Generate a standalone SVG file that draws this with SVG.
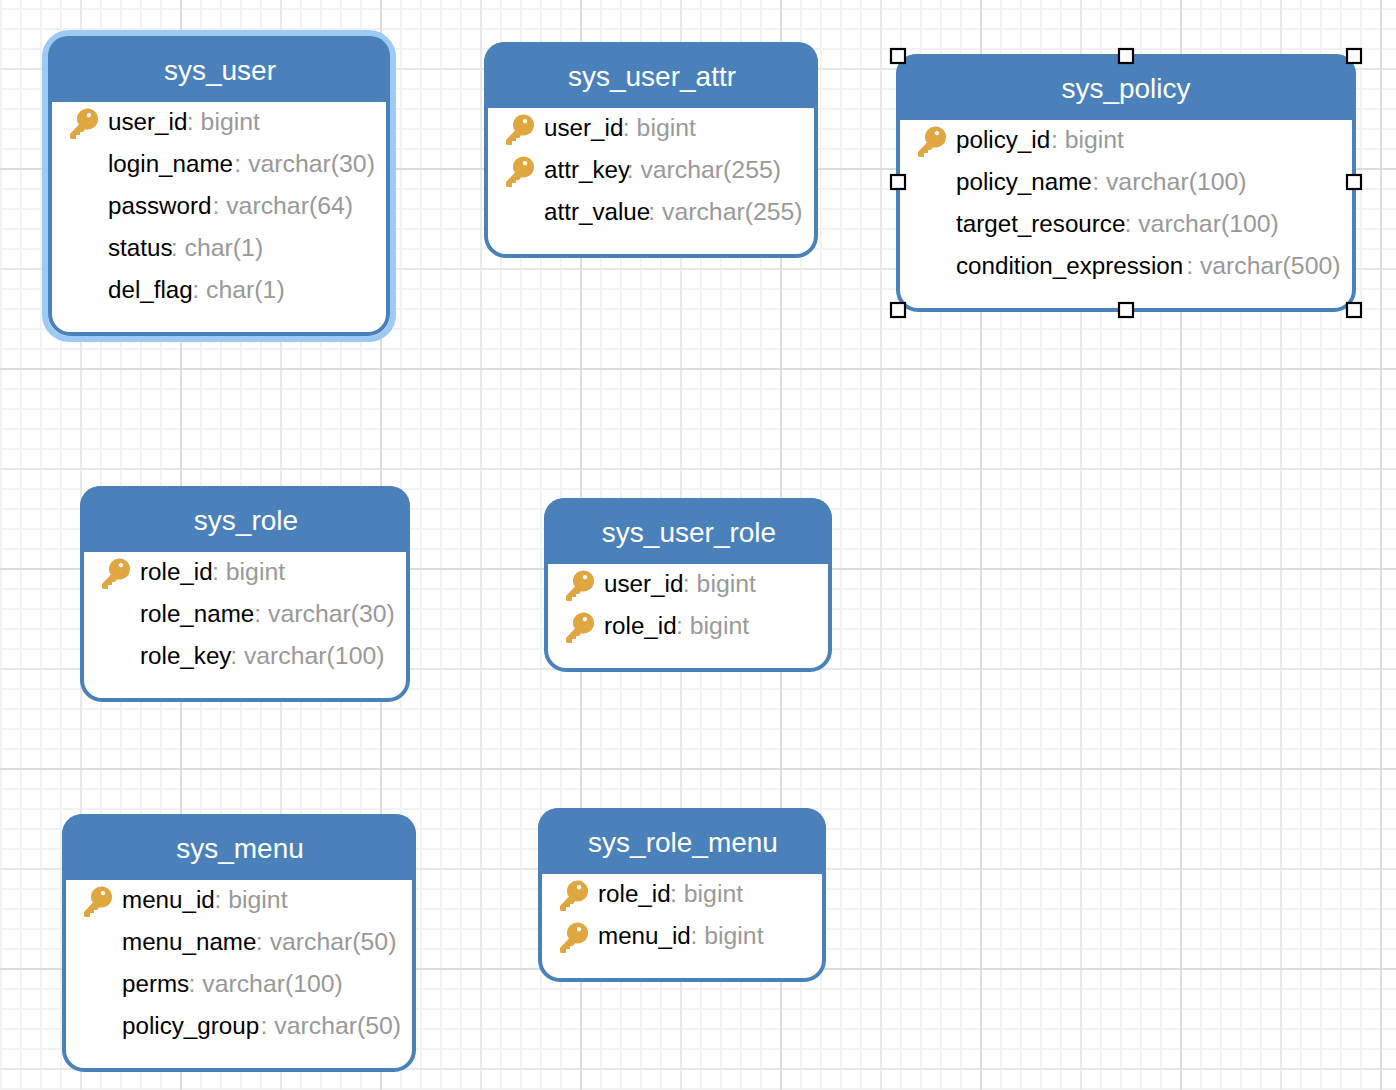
<svg xmlns="http://www.w3.org/2000/svg" xmlns:xlink="http://www.w3.org/1999/xlink" width="1396" height="1090" viewBox="0 0 1396 1090">
<style>
text{font-family:"Liberation Sans",Arial,sans-serif}
.box{fill:#fff;stroke:#4a81bb;stroke-width:4}
.head{fill:#4a81bb}
.title{fill:#fff;font-size:28px;text-anchor:middle;dominant-baseline:central}
.row{fill:#000;font-size:24.2px;dominant-baseline:central}
.row tspan{fill:#999;font-size:24.8px}
.hl{fill:none;stroke:#9ccaf5;stroke-width:6}
.handle{fill:#fff;stroke:#000;stroke-width:2.2}
</style>
<defs>
<pattern id="g" width="200" height="200" patternUnits="userSpaceOnUse" x="-19" y="-31">
<path d="M0 0V200M20 0V200M40 0V200M60 0V200M80 0V200M100 0V200M120 0V200M140 0V200M160 0V200M180 0V200M0 0H200M0 20H200M0 40H200M0 60H200M0 80H200M0 100H200M0 120H200M0 140H200M0 160H200M0 180H200" stroke="#f2f2f2" stroke-width="2" fill="none"/>
<path d="M100 0V200M0 100H200" stroke="#e8e8e8" stroke-width="2" fill="none"/>
<path d="M0 0V200M0 0H200M200 0V200M0 200H200" stroke="#dcdcdc" stroke-width="2" fill="none"/>
</pattern>
<g id="key">
<path fill="#e0a63f" fill-rule="evenodd" d="M7 11a10.500 10.500 0 1 1 8 10.200L13 24H10V27H6V31H1L0 30V26L9 16.500C7.500 15 7 13 7 11ZM19 5a2.200 2.200 0 1 0 .01 0Z"/>
</g>
</defs>
<rect width="1396" height="1090" fill="#fff"/>
<rect width="1396" height="1090" fill="url(#g)"/>
<g id="connectors"/>
<g id="sys_user">
<rect class="hl" x="45" y="33" width="348" height="306" rx="24"/>
<rect class="box" x="50" y="38" width="338" height="296" rx="20"/>
<path class="head" d="M70 36H370a20 20 0 0 1 20 20V102H48V56a20 20 0 0 1 20-20Z"/>
<text class="title" x="220" y="70">sys_user</text>
<use xlink:href="#key" href="#key" x="70" y="108"/>
<text class="row" x="108" y="121">user_id<tspan dx="-.5">: bigint</tspan></text>
<text class="row" x="108" y="163">login_name<tspan dx="1.300">: varchar(30)</tspan></text>
<text class="row" x="108" y="205">password<tspan dx=".9">: varchar(64)</tspan></text>
<text class="row" x="108" y="247">status<tspan dx="-1.700">: char(1)</tspan></text>
<text class="row" x="108" y="289">del_flag<tspan dx="-.4">: char(1)</tspan></text>
</g>
<g id="sys_user_attr">
<rect class="box" x="486" y="44" width="330" height="212" rx="20"/>
<path class="head" d="M504 42H798a20 20 0 0 1 20 20V108H484V62a20 20 0 0 1 20-20Z"/>
<text class="title" x="652" y="76">sys_user_attr</text>
<use xlink:href="#key" href="#key" x="506" y="114"/>
<use xlink:href="#key" href="#key" x="506" y="156"/>
<text class="row" x="544" y="127">user_id<tspan dx="-.5">: bigint</tspan></text>
<text class="row" x="544" y="169">attr_key<tspan dx="-3.400">: varchar(255)</tspan></text>
<text class="row" x="544" y="211">attr_value<tspan dx="-2">: varchar(255)</tspan></text>
</g>
<g id="sys_policy">
<rect class="box" x="898" y="56" width="456" height="254" rx="20"/>
<path class="head" d="M916 54H1336a20 20 0 0 1 20 20V120H896V74a20 20 0 0 1 20-20Z"/>
<text class="title" x="1126" y="88">sys_policy</text>
<use xlink:href="#key" href="#key" x="918" y="126"/>
<text class="row" x="956" y="139">policy_id<tspan dx=".8">: bigint</tspan></text>
<text class="row" x="956" y="181">policy_name<tspan dx=".4">: varchar(100)</tspan></text>
<text class="row" x="956" y="223">target_resource<tspan dx="-1">: varchar(100)</tspan></text>
<text class="row" x="956" y="265">condition_expression<tspan dx="2.900">: varchar(500)</tspan></text>
<rect class="handle" x="891" y="49" width="14" height="14"/>
<rect class="handle" x="1119" y="49" width="14" height="14"/>
<rect class="handle" x="1347" y="49" width="14" height="14"/>
<rect class="handle" x="891" y="175" width="14" height="14"/>
<rect class="handle" x="1347" y="175" width="14" height="14"/>
<rect class="handle" x="891" y="303" width="14" height="14"/>
<rect class="handle" x="1119" y="303" width="14" height="14"/>
<rect class="handle" x="1347" y="303" width="14" height="14"/>
</g>
<g id="sys_role">
<rect class="box" x="82" y="488" width="326" height="212" rx="20"/>
<path class="head" d="M100 486H390a20 20 0 0 1 20 20V552H80V506a20 20 0 0 1 20-20Z"/>
<text class="title" x="246" y="520">sys_role</text>
<use xlink:href="#key" href="#key" x="102" y="558"/>
<text class="row" x="140" y="571">role_id<tspan dx="-.6">: bigint</tspan></text>
<text class="row" x="140" y="613">role_name<tspan>: varchar(30)</tspan></text>
<text class="row" x="140" y="655">role_key<tspan dx="-1.300">: varchar(100)</tspan></text>
</g>
<g id="sys_user_role">
<rect class="box" x="546" y="500" width="284" height="170" rx="20"/>
<path class="head" d="M564 498H812a20 20 0 0 1 20 20V564H544V518a20 20 0 0 1 20-20Z"/>
<text class="title" x="689" y="532">sys_user_role</text>
<use xlink:href="#key" href="#key" x="566" y="570"/>
<use xlink:href="#key" href="#key" x="566" y="612"/>
<text class="row" x="604" y="583">user_id<tspan dx="-.5">: bigint</tspan></text>
<text class="row" x="604" y="625">role_id<tspan dx="-.6">: bigint</tspan></text>
</g>
<g id="sys_menu">
<rect class="box" x="64" y="816" width="350" height="254" rx="20"/>
<path class="head" d="M82 814H396a20 20 0 0 1 20 20V880H62V834a20 20 0 0 1 20-20Z"/>
<text class="title" x="240" y="848">sys_menu</text>
<use xlink:href="#key" href="#key" x="84" y="886"/>
<text class="row" x="122" y="899">menu_id<tspan dx="-.3">: bigint</tspan></text>
<text class="row" x="122" y="941">menu_name<tspan dx="-.6">: varchar(50)</tspan></text>
<text class="row" x="122" y="983">perms<tspan dx="-.7">: varchar(100)</tspan></text>
<text class="row" x="122" y="1025">policy_group<tspan dx="1.400">: varchar(50)</tspan></text>
</g>
<g id="sys_role_menu">
<rect class="box" x="540" y="810" width="284" height="170" rx="20"/>
<path class="head" d="M558 808H806a20 20 0 0 1 20 20V874H538V828a20 20 0 0 1 20-20Z"/>
<text class="title" x="683" y="842">sys_role_menu</text>
<use xlink:href="#key" href="#key" x="560" y="880"/>
<use xlink:href="#key" href="#key" x="560" y="922"/>
<text class="row" x="598" y="893">role_id<tspan dx="-.6">: bigint</tspan></text>
<text class="row" x="598" y="935">menu_id<tspan dx="-.3">: bigint</tspan></text>
</g>
</svg>
